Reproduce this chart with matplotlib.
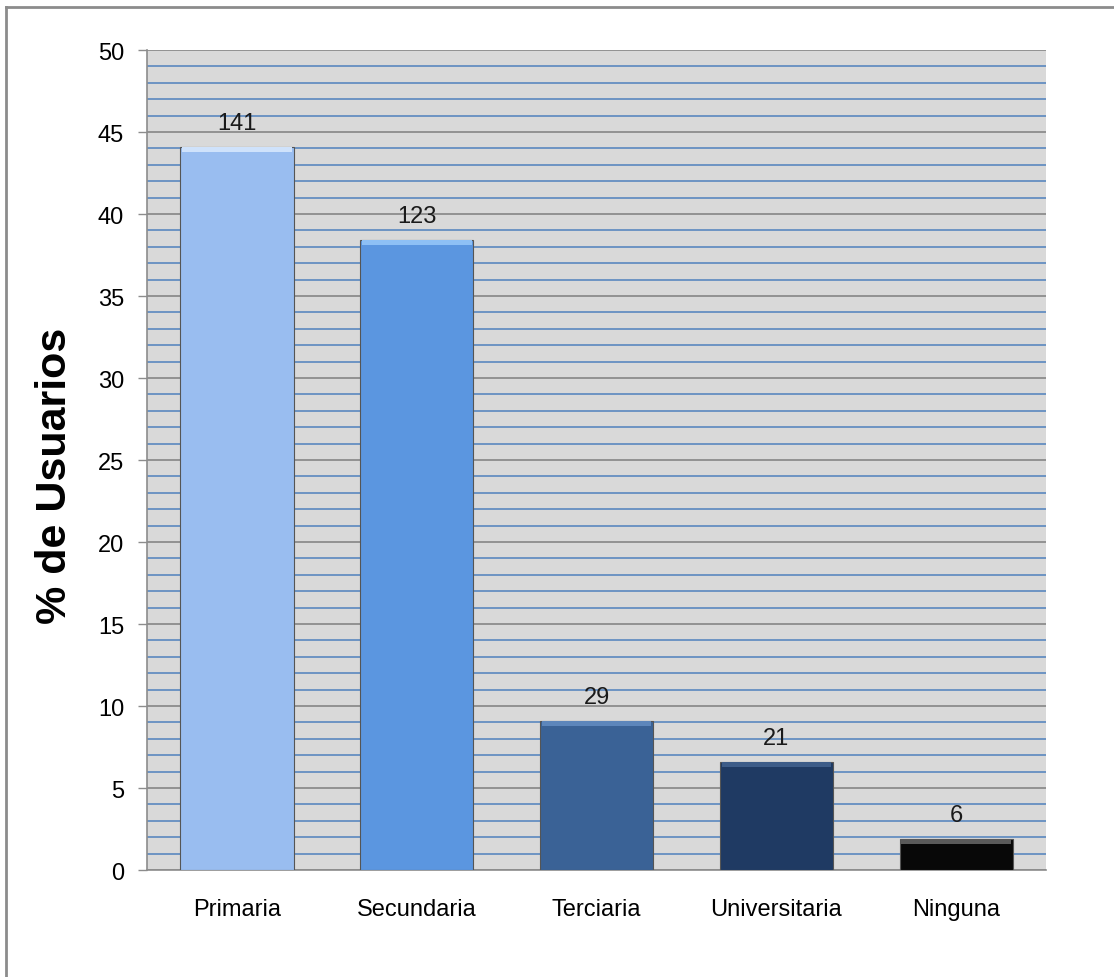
import numpy as np
import matplotlib
matplotlib.use('Agg')
import matplotlib.pyplot as plt
from matplotlib.lines import Line2D

plt.rcParams['font.family'] = ['Liberation Sans', 'DejaVu Sans']

# Data
categories = ['Primaria', 'Secundaria', 'Terciaria', 'Universitaria', 'Ninguna']
percent    = [44.1, 38.4, 9.1, 6.6, 1.9]
counts     = [141, 123, 29, 21, 6]
colors     = ['#99bdf0', '#5b96e0', '#3a6296', '#1f3a63', '#080808']
tops       = ['#cfe2fb', '#8ec0f5', '#5d86bb', '#3d5c88', '#5a5a5a']

fig = plt.figure(figsize=(11.14, 9.78), dpi=100)
ax = fig.add_axes([0.132, 0.1094, 0.807, 0.8384])

ax.set_facecolor('#d9d9d9')
x = np.arange(len(categories))

# grid: blue minor every 1, gray major every 5
ax.set_ylim(0, 50)
ax.set_xlim(-0.5, len(categories) - 0.5)
ax.set_yticks(np.arange(0, 51, 5))
ax.set_yticks(np.arange(0, 51, 1), minor=True)
ax.grid(which='minor', axis='y', color='#4f81bd', lw=1.1)
ax.grid(which='major', axis='y', color='#8c8c8c', lw=1.3)
ax.set_axisbelow(True)

ax.bar(x, percent, width=0.63, color=colors, edgecolor='#555555', linewidth=0.8, zorder=3)
# highlight at the top of each bar
ax.bar(x, [0.3] * len(x), bottom=np.array(percent) - 0.3, width=0.61, color=tops, linewidth=0, zorder=4)

for xi, p, c in zip(x, percent, counts):
    ax.text(xi, p + 0.8, str(c), ha='center', va='bottom', fontsize=17, color='#1a1a1a')

ax.set_xticks(x)
ax.set_xticklabels(categories, fontsize=17)
ax.tick_params(axis='x', length=0, pad=20)
ax.tick_params(axis='y', which='major', length=6.5, width=1, color='#8c8c8c', labelsize=17, pad=10)
ax.tick_params(axis='y', which='minor', length=0)

for s in ['top', 'right']:
    ax.spines[s].set_visible(False)
ax.spines['left'].set_color('#8c8c8c')
ax.spines['bottom'].set_color('#8c8c8c')
ax.spines['left'].set_linewidth(1.2)
ax.spines['bottom'].set_linewidth(1.2)

ax.set_ylabel('% de Usuarios', fontsize=31, fontweight='bold')
ax.yaxis.set_label_coords(-0.08, 0.482)

# outer frame (top and left only)
fig.add_artist(Line2D([0.005, 1.0], [0.992, 0.992], transform=fig.transFigure, color='#8c8c8c', lw=2))
fig.add_artist(Line2D([0.005, 0.005], [0.0, 0.992], transform=fig.transFigure, color='#8c8c8c', lw=2))

fig.savefig('out.png', dpi=100)
